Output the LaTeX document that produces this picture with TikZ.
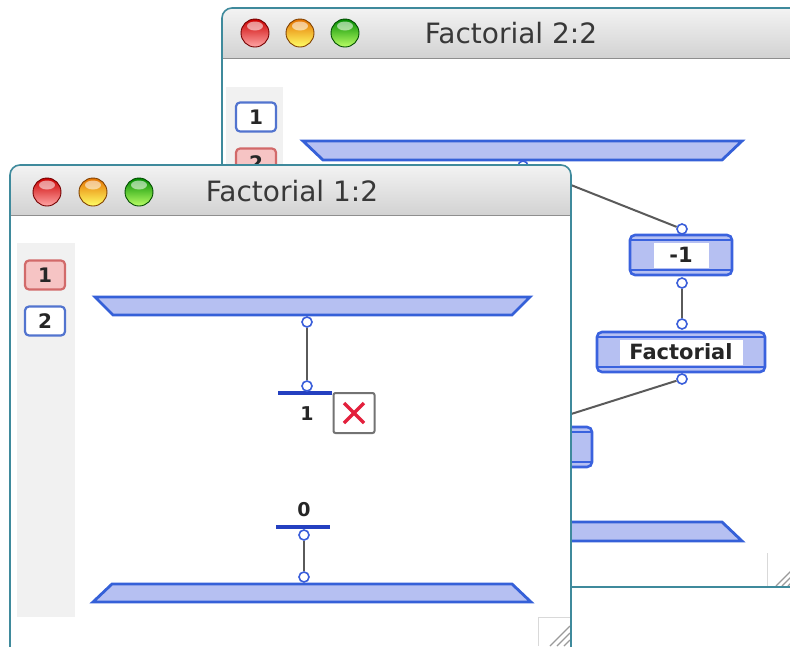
\documentclass[tikz,border=0pt]{standalone}
\usepackage{fontspec}
\setmainfont{DejaVu Sans}
\definecolor{winborder}{HTML}{3F8A9C}
\definecolor{tbtop}{HTML}{F3F3F3}
\definecolor{tbbot}{HTML}{D2D2D2}
\definecolor{tbline}{HTML}{8E8E8E}
\definecolor{panelgrey}{HTML}{F1F1F1}
\definecolor{trapfill}{HTML}{B6C0F2}
\definecolor{trapline}{HTML}{3560D8}
\definecolor{boxline}{HTML}{3A62DE}
\definecolor{portblue}{HTML}{3A5EDA}
\definecolor{barblue}{HTML}{2440C0}
\definecolor{wiregrey}{HTML}{5A5A5A}
\definecolor{inblue}{HTML}{5274CF}
\definecolor{inred}{HTML}{D26A6A}
\definecolor{inredfill}{HTML}{F6C4C4}
\definecolor{errred}{HTML}{E3203C}
\definecolor{titletext}{HTML}{383838}
\definecolor{gripgrey}{HTML}{9A9A9A}

% glossy window button: centre, dark shade, light shade, rim
\newcommand\macbutton[4]{%
  \shade[top color=#2, bottom color=#3, draw=#4, line width=0.9pt] (#1) circle (14pt);
  \fill[white, opacity=0.55, shift={(#1)}] (0,-7) ellipse (8pt and 4.5pt);
}

\begin{document}
\begin{tikzpicture}[x=1pt, y=-1pt,
  wintitle/.style={font=\fontsize{28}{30}\selectfont, text=titletext, inner sep=0pt},
  inbox/.style={rectangle, rounded corners=4pt, line width=2.2pt, minimum width=40pt,
    minimum height=29pt, inner sep=0pt, font=\bfseries\fontsize{20}{22}\selectfont, text=black!85},
  inblue/.style={inbox, draw=inblue, fill=white},
  inred/.style={inbox, draw=inred, fill=inredfill},
  trap/.style={fill=trapfill, draw=trapline, line width=2.8pt, line join=miter},
  opbox/.style={rectangle, rounded corners=5pt, draw=boxline, fill=trapfill,
    line width=2.6pt, inner sep=0pt,
    path picture={
      \draw[boxline, line width=1.2pt]
        ([yshift=-5pt]path picture bounding box.north west) -- ([yshift=-5pt]path picture bounding box.north east)
        ([yshift=5pt]path picture bounding box.south west) -- ([yshift=5pt]path picture bounding box.south east);
    }},
  oplabel/.style={rectangle, fill=white, inner sep=0pt, minimum height=25pt,
    font=\bfseries\fontsize{21}{23}\selectfont, text=black!85},
  port/.style={circle, draw=portblue, fill=white, line width=1.6pt, minimum size=10pt, inner sep=0pt},
  wire/.style={draw=wiregrey, line width=2pt},
  constbar/.style={rectangle, fill=barblue, minimum height=3.2pt, minimum width=54pt, inner sep=0pt},
  constval/.style={inner sep=0pt, font=\bfseries\fontsize{19}{21}\selectfont, text=black!85},
  errbox/.style={rectangle, rounded corners=2pt, draw=black!55, line width=2pt, fill=white,
    minimum width=41pt, minimum height=40pt, inner sep=0pt,
    path picture={
      \draw[errred, line width=3.2pt]
        ([shift={(-10pt,-10pt)}]path picture bounding box.center) -- ([shift={(10pt,10pt)}]path picture bounding box.center)
        ([shift={(-10pt,10pt)}]path picture bounding box.center) -- ([shift={(10pt,-10pt)}]path picture bounding box.center);
    }},
  grip/.style={draw=black!15, line width=1pt},
  griplines/.style={draw=gripgrey, line width=1.3pt}
]
\useasboundingbox (0,0) rectangle (790,646);
\clip (0,0) rectangle (790,646);
\fill[white] (0,0) rectangle (790,646);

% ---------------- window "Factorial 2:2" (behind) ----------------
\fill[white, rounded corners=10pt] (222,8) rectangle (812,587);
\begin{scope}
  \clip[rounded corners=10pt] (222,8) rectangle (812,700);
  \shade[top color=tbtop, bottom color=tbbot] (222,8) rectangle (812,58);
\end{scope}
\draw[tbline, line width=1pt] (222,58) -- (812,58);
\macbutton{255,33}{red!80!black}{red!35}{red!45!black}
\macbutton{300,33}{orange!90!black}{yellow!60}{orange!50!black}
\macbutton{345,33}{green!55!black}{green!45!yellow!60}{green!30!black}
\node[wintitle] (t2) at (511,33) {Factorial 2:2};

\fill[panelgrey] (226,87) rectangle (283,600);
\node[inblue] (b-in1) at (256,117) {1};
\node[inred]  (b-in2) at (256,163) {2};

\filldraw[trap] (303,141) -- (742,141) -- (722,160) -- (323,160) -- cycle;
\filldraw[trap] (323,522) -- (722,522) -- (742,541) -- (303,541) -- cycle;

\node[opbox, minimum width=102pt, minimum height=40pt] (b-dec) at (681,255) {};
\node[oplabel, minimum width=55pt] (b-dec-txt) at (b-dec) {-1};
\node[opbox, minimum width=168pt, minimum height=40pt] (b-fact) at (681,352) {};
\node[oplabel, minimum width=123pt] (b-fact-txt) at (b-fact) {Factorial};
\node[opbox, minimum width=124pt, minimum height=40pt] (b-mul) at (530,447) {};

\node[port] (b-top)      at (523,166) {};
\node[port] (b-dec-in)   at (682,229) {};
\node[port] (b-dec-out)  at (682,283) {};
\node[port] (b-fact-in)  at (682,324) {};
\node[port] (b-fact-out) at (682,379) {};
\node[port] (b-mul-in)   at (549,421) {};

\draw[wire] (b-top) -- (b-dec-in);
\draw[wire] (b-dec-out) -- (b-fact-in);
\draw[wire] (b-fact-out) -- (b-mul-in);

\draw[grip] (767,553) -- (767,586);
\draw[griplines] (776,586) -- (792,570) (782,586) -- (792,576) (788,586) -- (792,582);

\draw[winborder, line width=1.6pt, rounded corners=10pt] (222,8) rectangle (812,587);

% ---------------- window "Factorial 1:2" (front) ----------------
\fill[white, rounded corners=10pt] (10,165) rectangle (571,720);
\begin{scope}
  \clip[rounded corners=10pt] (10,165) rectangle (571,720);
  \shade[top color=tbtop, bottom color=tbbot] (10,165) rectangle (571,215);
\end{scope}
\draw[tbline, line width=1pt] (10,215) -- (571,215);
\macbutton{47,192}{red!80!black}{red!35}{red!45!black}
\macbutton{93,192}{orange!90!black}{yellow!60}{orange!50!black}
\macbutton{139,192}{green!55!black}{green!45!yellow!60}{green!30!black}
\node[wintitle] (t1) at (292,191) {Factorial 1:2};

\fill[panelgrey] (17,243) rectangle (75,617);
\node[inred]  (f-in1) at (45,275) {1};
\node[inblue] (f-in2) at (45,321) {2};

\filldraw[trap] (95,297) -- (530,297) -- (512,315) -- (113,315) -- cycle;
\filldraw[trap] (112,584) -- (512,584) -- (531,602) -- (93,602) -- cycle;

% constant 1 with its error mark
\node[constbar] (f-k1) at (305,393) {};
\node[constval] (f-k1-val) at (307,414) {1};
\node[errbox] (f-err) at (354,413) {};
\node[port] (f-top) at (307,322) {};
\node[port] (f-k1-in) at (307,386) {};
\draw[wire] (f-top) -- (f-k1-in);

% constant 0 feeding the output
\node[constval] (f-k0-val) at (304,510) {0};
\node[constbar] (f-k0) at (303,527) {};
\node[port] (f-k0-out) at (304,535) {};
\node[port] (f-bot) at (304,577) {};
\draw[wire] (f-k0-out) -- (f-bot);

\draw[grip] (538,617) -- (538,646) (538,617) -- (571,617);
\draw[griplines] (550,646) -- (570,626) (557,646) -- (570,633) (564,646) -- (570,640);

\draw[winborder, line width=1.6pt, rounded corners=10pt] (10,165) rectangle (571,720);
\end{tikzpicture}
\end{document}
